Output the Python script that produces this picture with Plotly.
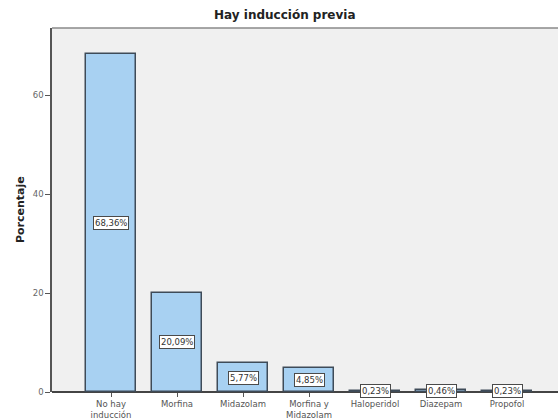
import plotly.graph_objects as go

# Frequency of prior induction drug (percent of cases)
categories = ["No hay inducción", "Morfina", "Midazolam", "Morfina y Midazolam",
              "Haloperidol", "Diazepam", "Propofol"]
tick_text = ["No hay<br>inducción", "Morfina", "Midazolam", "Morfina y<br>Midazolam",
             "Haloperidol", "Diazepam", "Propofol"]
percentages = [68.36, 20.09, 5.77, 4.85, 0.23, 0.46, 0.23]
y_ticks = [0, 20, 40, 60]

W, H = 558, 419
ML, MT, MB = 52, 28, 27
plot_w = W - ML
step_px = 66.0
x_lo = -59.0 / step_px
x_hi = x_lo + plot_w / step_px

fig = go.Figure()
fig.add_trace(go.Bar(
    x=list(range(len(categories))),
    y=percentages,
    width=0.77,
    marker=dict(color="#a8d1f2", line=dict(color="#3e4b58", width=1.5)),
    hoverinfo="skip",
))

# value labels, centred at half the bar height
for i, v in enumerate(percentages):
    fig.add_annotation(
        x=i, y=v / 2, xref="x", yref="y",
        text=f"{v:.2f}%".replace(".", ","),
        showarrow=False,
        font=dict(family="DejaVu Sans", size=8.5, color="#333333"),
        bgcolor="white", bordercolor="#4a4a4a", borderwidth=1, borderpad=1,
    )

# title and y-axis label
fig.add_annotation(
    x=(285 - ML) / plot_w, y=1, xref="paper", yref="paper",
    xanchor="center", yanchor="middle", yshift=13,
    text="<b>Hay inducción previa</b>", showarrow=False,
    font=dict(family="DejaVu Sans", size=12, color="#222222"),
)
fig.add_annotation(
    x=(20 - ML) / plot_w, y=0.5, xref="paper", yref="paper",
    xanchor="center", yanchor="middle",
    text="<b>Porcentaje</b>", textangle=-90, showarrow=False,
    font=dict(family="DejaVu Sans", size=11, color="#222222"),
)

# top frame edge of the plot area
fig.add_shape(type="line", xref="paper", yref="paper",
              x0=0, x1=1, y0=1, y1=1,
              line=dict(color="#8a8a8a", width=1.5))

fig.update_layout(
    width=W, height=H,
    margin=dict(l=ML, r=0, t=MT, b=MB, pad=0, autoexpand=False),
    paper_bgcolor="white",
    plot_bgcolor="#f0f0f0",
    showlegend=False,
    bargap=0,
    xaxis=dict(
        range=[x_lo, x_hi],
        tickvals=list(range(len(categories))),
        ticktext=tick_text,
        ticks="outside", ticklen=4, tickwidth=1, tickcolor="#555555",
        ticklabelstandoff=0,
        automargin=False,
        showline=False, showgrid=False, zeroline=False,
        tickfont=dict(family="DejaVu Sans", size=8.5, color="#555555"),
        fixedrange=True,
    ),
    yaxis=dict(
        range=[0, (H - MB - MT) / 4.95],
        tickvals=y_ticks,
        ticks="outside", ticklen=5, tickwidth=1, tickcolor="#555555",
        automargin=False,
        showline=True, linecolor="#555555", linewidth=1.5,
        showgrid=False,
        zeroline=True, zerolinecolor="#444444", zerolinewidth=1.5,
        tickfont=dict(family="DejaVu Sans", size=8.5, color="#666666"),
        fixedrange=True,
    ),
)

fig.write_html("out.html")
